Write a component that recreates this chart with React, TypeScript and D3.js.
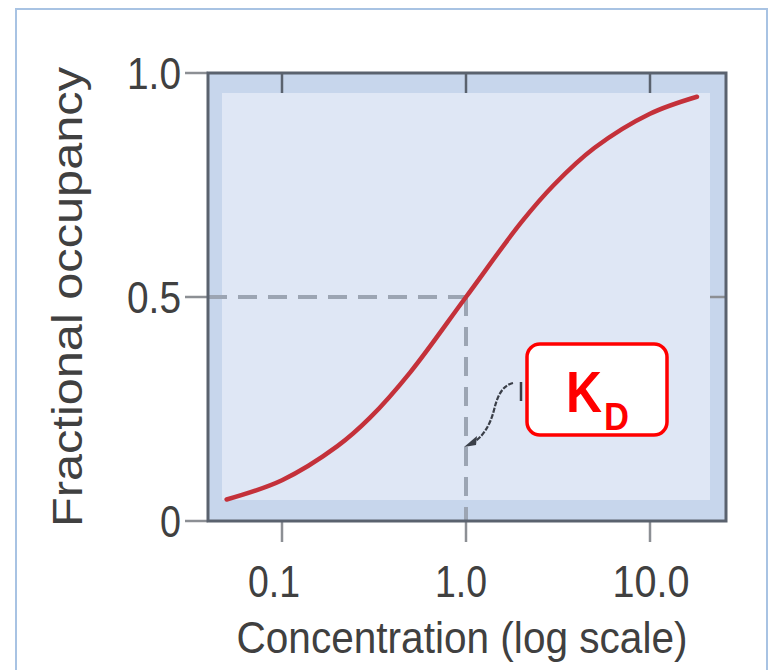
import * as d3 from "d3";

// values
const concentration = [0.05, 0.1, 0.2, 0.3, 0.5, 1, 2, 3, 5, 10, 18];
const occupancy = [0.048, 0.091, 0.167, 0.23, 0.333, 0.5, 0.667, 0.75, 0.833, 0.909, 0.947];
const xTicks = [0.1, 1, 10];
const xTickLabels = ["0.1", "1.0", "10.0"];
const yTicks = [0, 0.5, 1];
const yTickLabels = ["0", "0.5", "1.0"];
const kd = 1;

const COLORS = {
  frame: "#a8c3e3",
  band: "#c7d6ec",
  panel: "#dfe7f5",
  border: "#5a626e",
  tick: "#8c8f94",
  text: "#404040",
  curve: "#c4313a",
  dash: "#9ca5b3",
  red: "#ff0000",
  arrow: "#3a3f48",
};

const FONT = "'Liberation Sans', Arial, Helvetica, sans-serif";

export default function App() {
  const left = 208;
  const right = 726;
  const top = 73;
  const bottom = 521;

  const x = d3.scaleLog().domain([0.1, 10]).range([282, 650]);
  const y = d3.scaleLinear().domain([0, 1]).range([bottom, top]);

  const points = concentration.map((c, i) => [x(c), y(occupancy[i])] as [number, number]);
  const linePath = d3.line().curve(d3.curveCatmullRom.alpha(0.5))(points) || "";

  const xKd = x(kd);
  const yHalf = y(0.5);

  // little curly pointer from the KD box to the dashed line
  const arrowPath = d3.path();
  arrowPath.moveTo(513, 383);
  arrowPath.bezierCurveTo(501, 386, 497, 398, 494, 410);
  arrowPath.bezierCurveTo(490, 426, 482, 438, 472, 443);

  return (
    <svg
      width={769}
      height={670}
      style={{ position: "absolute", left: 0, top: 0, background: "#fff" }}
    >
      {/* outer frame */}
      <rect x={16} y={9} width={751} height={680} fill="#fff" stroke={COLORS.frame} strokeWidth={2} />

      {/* plot area */}
      <rect x={left} y={top} width={right - left} height={bottom - top} fill={COLORS.band} />
      <rect x={222} y={93} width={710 - 222} height={500 - 93} fill={COLORS.panel} />

      {/* top ticks (inward) */}
      {xTicks.map((t) => (
        <line key={"tt" + t} x1={x(t)} x2={x(t)} y1={top} y2={93} stroke={COLORS.border} strokeWidth={2.5} />
      ))}
      {/* bottom ticks (outward) */}
      {xTicks.map((t) => (
        <line key={"bt" + t} x1={x(t)} x2={x(t)} y1={bottom} y2={542} stroke={COLORS.tick} strokeWidth={2.5} />
      ))}
      {/* left ticks (outward) */}
      {yTicks.map((t) => (
        <line key={"lt" + t} x1={185} x2={t === 0.5 ? 222 : left} y1={y(t)} y2={y(t)} stroke={COLORS.tick} strokeWidth={2.5} />
      ))}
      {/* right tick at 0.5 */}
      <line x1={710} x2={right} y1={yHalf} y2={yHalf} stroke={COLORS.tick} strokeWidth={2.5} />

      {/* dashed guides at KD */}
      <path
        d={`M${left},${yHalf}H${xKd}`}
        fill="none"
        stroke={COLORS.dash}
        strokeWidth={4}
        strokeDasharray="19 11"
      />
      <path
        d={`M${xKd},${yHalf}V${bottom}`}
        fill="none"
        stroke={COLORS.dash}
        strokeWidth={4}
        strokeDasharray="19 11"
      />

      {/* border */}
      <rect x={left} y={top} width={right - left} height={bottom - top} fill="none" stroke={COLORS.border} strokeWidth={3} />

      {/* binding curve */}
      <path d={linePath} fill="none" stroke={COLORS.curve} strokeWidth={4.5} strokeLinecap="round" />

      {/* pointer */}
      <path d={arrowPath.toString()} fill="none" stroke={COLORS.arrow} strokeWidth={2.2} strokeDasharray="5 1.5" />
      <line x1={521} x2={521} y1={382} y2={401} stroke={COLORS.arrow} strokeWidth={2.5} />
      <path d="M464,447 L477,436 L476,445 Z" fill={COLORS.arrow} />

      {/* KD label box */}
      <rect x={527} y={344} width={140} height={91} rx={13} fill="#fff" stroke={COLORS.red} strokeWidth={3.5} />
      <text x={566} y={412} fill={COLORS.red} fontFamily={FONT} fontWeight="bold" fontSize={58} textLength={36} lengthAdjust="spacingAndGlyphs">
        K
      </text>
      <text x={604} y={430} fill={COLORS.red} fontFamily={FONT} fontWeight="bold" fontSize={38} textLength={25} lengthAdjust="spacingAndGlyphs">
        D
      </text>

      {/* y tick labels */}
      {yTicks.map((t, i) => (
        <text
          key={"yl" + t}
          x={181}
          y={y(t)}
          dy="0.36em"
          textAnchor="end"
          fill={COLORS.text}
          fontFamily={FONT}
          fontSize={44}
          textLength={t === 0 ? 21 : 54}
          lengthAdjust="spacingAndGlyphs"
        >
          {yTickLabels[i]}
        </text>
      ))}

      {/* x tick labels */}
      {xTicks.map((t, i) => (
        <text
          key={"xl" + t}
          x={[274, 461, 651][i]}
          y={597}
          textAnchor="middle"
          fill={COLORS.text}
          fontFamily={FONT}
          fontSize={44}
          textLength={i === 2 ? 77 : 52}
          lengthAdjust="spacingAndGlyphs"
        >
          {xTickLabels[i]}
        </text>
      ))}

      {/* axis titles */}
      <text
        x={462}
        y={653}
        textAnchor="middle"
        fill={COLORS.text}
        fontFamily={FONT}
        fontSize={44}
        textLength={451}
        lengthAdjust="spacingAndGlyphs"
      >
        Concentration (log scale)
      </text>
      <text
        transform="translate(82,297) rotate(-90)"
        textAnchor="middle"
        fill={COLORS.text}
        fontFamily={FONT}
        fontSize={43}
        textLength={460}
        lengthAdjust="spacingAndGlyphs"
      >
        Fractional occupancy
      </text>
    </svg>
  );
}
